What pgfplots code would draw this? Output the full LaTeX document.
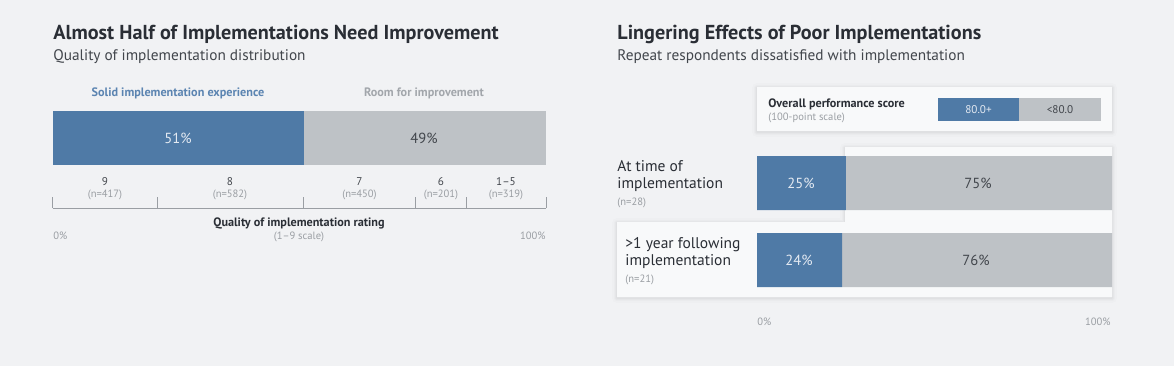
\documentclass[border=0pt]{standalone}
\usepackage{fontspec}
\setmainfont{PT Sans}
\usepackage{pgfplots}
\pgfplotsset{compat=1.18}
\definecolor{bg}{HTML}{F1F2F4}
\definecolor{panel}{HTML}{F8F9FA}
\definecolor{cblue}{HTML}{4F7AA6}
\definecolor{cgray}{HTML}{BEC2C6}
\definecolor{tdark}{HTML}{2A2E35}
\definecolor{tmid}{HTML}{42464C}
\definecolor{tgray}{HTML}{9A9EA3}
\definecolor{tblue}{HTML}{5B84B1}
\definecolor{tgrayb}{HTML}{A2A6AB}
\definecolor{tlight}{HTML}{E4EAF2}
\newcommand{\ftitle}{\fontsize{10.1}{12}\selectfont\bfseries}
\newcommand{\fsub}{\fontsize{7.65}{9.5}\selectfont}
\newcommand{\frow}{\fontsize{7.75}{9.5}\selectfont}
\newcommand{\fbar}{\fontsize{7.3}{9}\selectfont}
\newcommand{\fsmallb}{\fontsize{6.1}{7}\selectfont\bfseries}
\newcommand{\fsmall}{\fontsize{5.3}{6.5}\selectfont}
\newcommand{\ftick}{\fontsize{5.6}{6.5}\selectfont}
\begin{document}
\begin{tikzpicture}[x=0.5pt,y=-0.5pt]
\fill[bg] (0,0) rectangle (1174,366);
% ---------- right panels with soft glow ----------
\begin{scope}[yshift=-0.5pt]
\foreach \w/\o in {5/0.012,3.4/0.015,2/0.018,1/0.022}{
  \draw[black,opacity=\o,line width=\w pt,line join=round] (845,147) -- (1112,147) -- (1112,297) -- (617,297) -- (617,222) -- (845,222) -- cycle;
  \draw[black,opacity=\o,line width=\w pt,line join=round] (757,87) rectangle (1112,131);
}
\end{scope}
\fill[panel] (845,147) -- (1112,147) -- (1112,297) -- (617,297) -- (617,222) -- (845,222) -- cycle;
\fill[panel] (757,87) rectangle (1112,131);
% ---------- titles ----------
\node[anchor=base west,inner sep=0,text=tdark] at (53,39.5) {\ftitle Almost Half of Implementations Need Improvement};
\node[anchor=base west,inner sep=0,text=tmid] at (53,60) {\fsub Quality of implementation distribution};
\node[anchor=base west,inner sep=0,text=tdark] at (617,39.5) {\ftitle Lingering Effects of Poor Implementations};
\node[anchor=base west,inner sep=0,text=tmid] at (617,60) {\fsub Repeat respondents dissatisfied with implementation};
% ---------- left chart ----------
\node[anchor=base,inner sep=0,text=tblue] at (178,96) {\fsmallb Solid implementation experience};
\node[anchor=base,inner sep=0,text=tgrayb] at (424,96) {\fsmallb Room for improvement};
\begin{axis}[at={(26.5pt,-82.5pt)},anchor=south west,scale only axis,width=246.5pt,height=27pt,
  xmin=0,xmax=100,ymin=-0.5,ymax=0.5,xbar stacked,bar width=27pt,axis lines=none,
  clip=false,xtick=\empty,ytick=\empty]
\addplot[fill=cblue,draw=none] coordinates {(51,0)};
\addplot[fill=cgray,draw=none] coordinates {(49,0)};
\end{axis}
\node[text=tlight,inner sep=0] at (178,138) {\fbar 51\%};
\node[text=tmid,inner sep=0] at (424,138) {\fbar 49\%};
\begin{axis}[at={(26.5pt,-104pt)},anchor=south west,scale only axis,width=246.5pt,height=5.5pt,
  xmin=0,xmax=1969,ymin=0,ymax=1,axis lines=none,clip=false,xtick=\empty,ytick=\empty]
\addplot[ycomb,draw=tgray,line width=0.5pt,no marks] coordinates {(0,1)(417,1)(999,1)(1449,1)(1650,1)(1969,1)};
\addplot[draw=tgray,line width=0.5pt,no marks] coordinates {(0,0)(1969,0)};
\end{axis}
\foreach \x/\a/\n in {105/9/417,230/8/582,359.5/7/450,441/6/201,506/1--5/319}{
  \node[anchor=base,inner sep=0,text=tmid] at (\x,185) {\ftick \a};
  \node[anchor=base,inner sep=0,text=tgray] at (\x,197.5) {\fsmall (n=\n)};
}
\node[anchor=base,inner sep=0,text=tdark] at (299,226) {\fsmallb Quality of implementation rating};
\node[anchor=base,inner sep=0,text=tgray] at (299,239.5) {\fsmall (1--9 scale)};
\node[anchor=base west,inner sep=0,text=tgray] at (53,239.5) {\fsmall 0\%};
\node[anchor=base east,inner sep=0,text=tgray] at (546,239.5) {\fsmall 100\%};
% ---------- right legend ----------
\node[anchor=base west,inner sep=0,text=tdark] at (768,107) {\fsmallb Overall performance score};
\node[anchor=base west,inner sep=0,text=tgray] at (768,120) {\fsmall (100-point scale)};
\fill[cblue] (938,98) rectangle (1019,121);
\fill[cgray] (1019,98) rectangle (1101,121);
\node[text=tlight,inner sep=0] at (978.5,109.5) {\ftick 80.0+};
\node[text=tmid,inner sep=0] at (1060,109.5) {\ftick <80.0};
% ---------- right chart ----------
\begin{axis}[at={(378.5pt,-149.25pt)},anchor=south west,scale only axis,width=177.5pt,height=77pt,
  xmin=0,xmax=100,ymin=-0.5,ymax=1.5,y dir=reverse,xbar stacked,bar width=27pt,axis lines=none,
  clip=false,xtick=\empty,ytick=\empty]
\addplot[fill=cblue,draw=none] coordinates {(25,0)(24,1)};
\addplot[fill=cgray,draw=none] coordinates {(75,0)(76,1)};
\end{axis}
\node[text=tlight,inner sep=0] at (801,183) {\fbar 25\%};
\node[text=tmid,inner sep=0] at (978,183) {\fbar 75\%};
\node[text=tlight,inner sep=0] at (799,260) {\fbar 24\%};
\node[text=tmid,inner sep=0] at (976,260) {\fbar 76\%};
\node[anchor=base west,inner sep=0,text=tdark] at (617,171) {\frow At time of};
\node[anchor=base west,inner sep=0,text=tdark] at (617,188.5) {\frow implementation};
\node[anchor=base west,inner sep=0,text=tgray] at (617,205) {\fsmall (n=28)};
\node[anchor=base west,inner sep=0,text=tdark] at (625,248) {\frow >1 year following};
\node[anchor=base west,inner sep=0,text=tdark] at (625,265.5) {\frow implementation};
\node[anchor=base west,inner sep=0,text=tgray] at (625,282) {\fsmall (n=21)};
\node[anchor=base west,inner sep=0,text=tgray] at (757,325) {\fsmall 0\%};
\node[anchor=base east,inner sep=0,text=tgray] at (1111,325) {\fsmall 100\%};
\end{tikzpicture}
\end{document}
